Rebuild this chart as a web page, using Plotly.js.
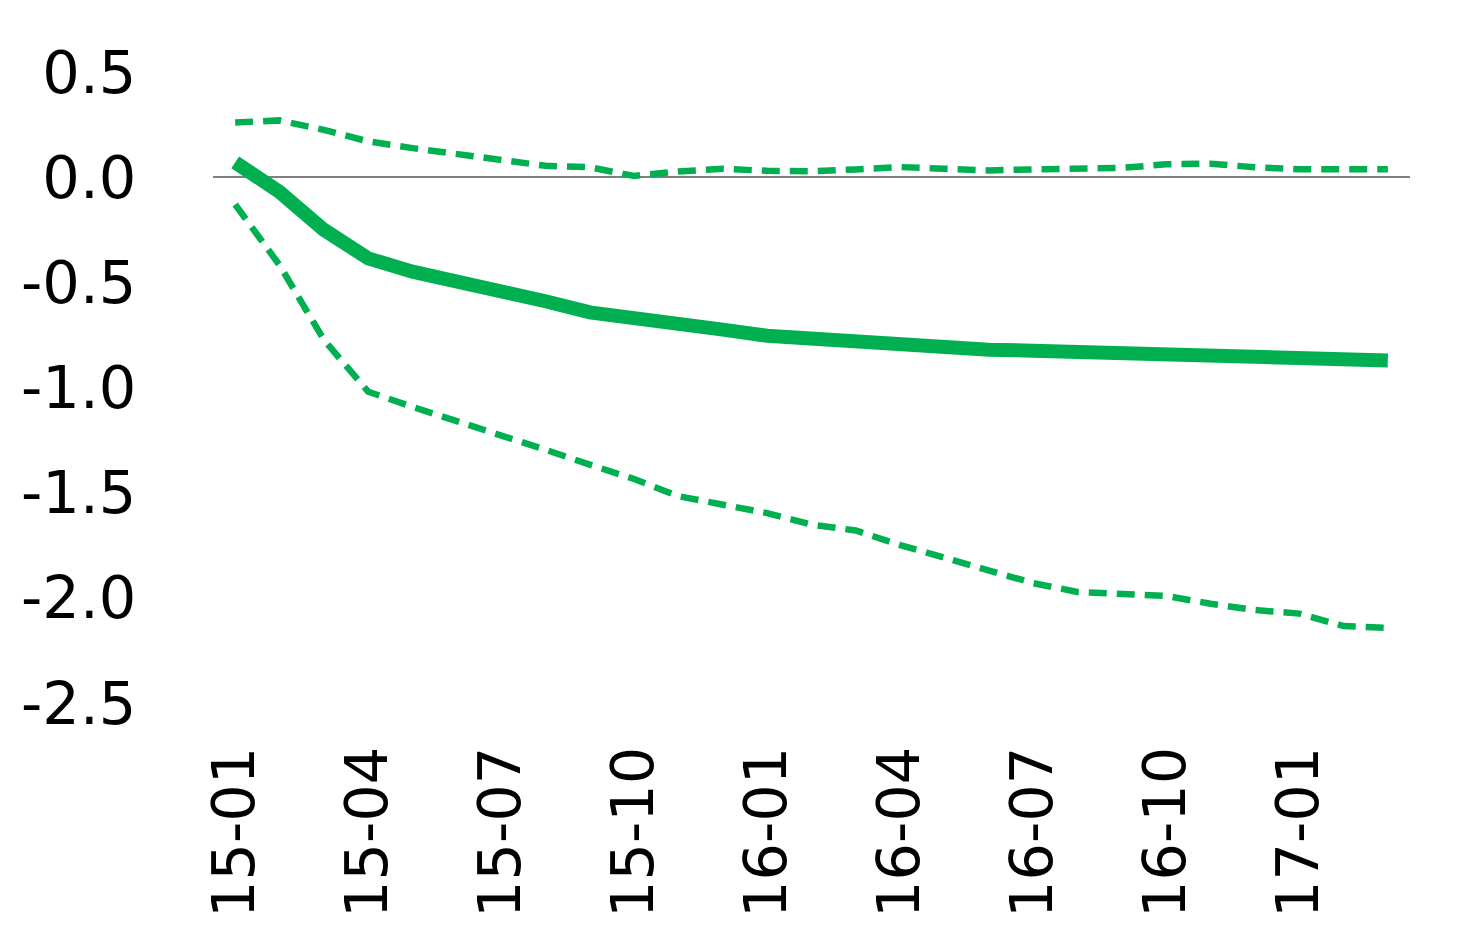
<!DOCTYPE html>
<html>
<head>
<meta charset="utf-8">
<script src="https://cdn.plot.ly/plotly-3.0.1.min.js"></script>
<style>
html,body{margin:0;padding:0;background:#fff;}
#chart{width:1479px;height:947px;}
</style>
</head>
<body>
<div id="chart"></div>
<script>
// Monthly categories
const months = ["15-01","15-02","15-03","15-04","15-05","15-06","15-07","15-08","15-09","15-10","15-11","15-12",
                "16-01","16-02","16-03","16-04","16-05","16-06","16-07","16-08","16-09","16-10","16-11","16-12",
                "17-01","17-02","17-03"];

// Central estimate (thick solid line)
const central = [0.07, -0.07, -0.25, -0.386, -0.449, -0.493, -0.536, -0.59, -0.643, -0.675,
                 -0.70, -0.725, -0.754, -0.77, -0.787, -0.80, -0.812, -0.82, -0.825, -0.832,
                 -0.845, -0.853, -0.86, -0.865, -0.867, -0.87, -0.872];

// Upper band (dashed)
const upper = [0.26, 0.27, 0.225, 0.17, 0.138, 0.112, 0.085, 0.054, 0.047, 0.006,
               0.027, 0.04, 0.03, 0.028, 0.037, 0.048, 0.04, 0.032, 0.037, 0.041,
               0.044, 0.061, 0.064, 0.047, 0.038, 0.038, 0.038];

// Lower band (dashed)
const lower = [-0.13, -0.418, -0.773, -1.02, -1.092, -1.158, -1.224, -1.296, -1.367, -1.435,
               -1.517, -1.557, -1.597, -1.652, -1.68, -1.749, -1.81, -1.874, -1.93, -1.972,
               -1.98, -1.991, -2.028, -2.058, -2.075, -2.134, -2.143];

// Axis ticks
const xTickLabels = ["15-01","15-04","15-07","15-10","16-01","16-04","16-07","16-10","17-01"];
const yTickVals = [0.5, 0.0, -0.5, -1.0, -1.5, -2.0, -2.5];
const yTickText = ["0.5", "0.0", "-0.5", "-1.0", "-1.5", "-2.0", "-2.5"];

const green = "#00B050";
const fontFamily = "'DejaVu Sans', sans-serif";

const traces = [
  {x: months, y: upper, type: "scatter", mode: "lines",
   line: {color: green, width: 6.5, dash: "18px,10px"}, hoverinfo: "skip"},
  {x: months, y: lower, type: "scatter", mode: "lines",
   line: {color: green, width: 6.5, dash: "18px,10px"}, hoverinfo: "skip"},
  {x: months, y: central, type: "scatter", mode: "lines",
   line: {color: green, width: 14}, hoverinfo: "skip"}
];

const layout = {
  width: 1479, height: 947,
  margin: {l: 213, r: 69, t: 72, b: 244},
  paper_bgcolor: "#fff", plot_bgcolor: "#fff",
  showlegend: false,
  font: {family: fontFamily, color: "#000"},
  xaxis: {
    type: "category",
    range: [-0.5, months.length - 0.5],
    tickmode: "array",
    tickvals: xTickLabels,
    ticktext: xTickLabels,
    tickangle: -90,
    tickfont: {family: fontFamily, size: 59, color: "#000"},
    showgrid: false, zeroline: false, showline: false,
    ticks: "outside", ticklen: 19, tickcolor: "rgba(0,0,0,0)"
  },
  yaxis: {
    range: [-2.5, 0.5],
    tickmode: "array",
    tickvals: yTickVals,
    ticktext: yTickText,
    tickfont: {family: fontFamily, size: 59, color: "#000"},
    showgrid: false, showline: false,
    zeroline: true, zerolinecolor: "#808080", zerolinewidth: 2.5,
    ticks: "outside", ticklen: 64, tickcolor: "rgba(0,0,0,0)"
  }
};

Plotly.newPlot("chart", traces, layout, {staticPlot: true, displayModeBar: false});
</script>
</body>
</html>
